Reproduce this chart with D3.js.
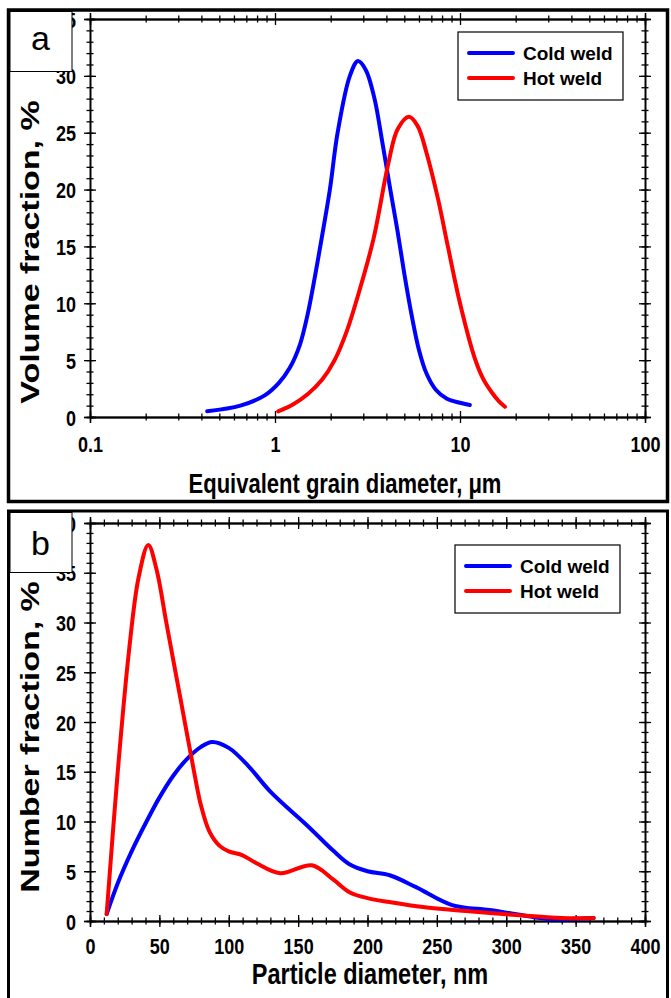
<!DOCTYPE html>
<html lang="en">
<head>
  <meta charset="UTF-8">
  <title>Grain and particle size distributions</title>
  <script src="https://d3js.org/d3.v7.min.js"></script>
  <style>
    body { margin: 0; background: #fff; }
    svg { display: block; font-family: Arial, "Liberation Sans", sans-serif; }
    .tick text { font-weight: bold; font-size: 18px; fill: #000; }
    .axis path, .axis line { stroke: #000; stroke-width: 1.3; }
    .title { font-weight: bold; fill: #000; }
    .legend text { font-weight: bold; font-size: 19px; fill: #000; }
  </style>
</head>
<body>
  <div id="chart"></div>

  <script>
    // (a) grain size, log x axis in um, volume fraction %
    const coldGrainD = [0.43, 0.65, 0.88, 1.05, 1.2, 1.36, 1.5, 1.65, 1.8, 1.98, 2.18, 2.54, 2.81, 3.1, 3.45, 3.8, 4.2, 4.6, 5.0, 5.5, 6.0, 6.6, 7.4, 8.5, 10.0, 11.3];
    const coldGrainV = [0.5, 1.0, 1.9, 3.0, 4.3, 6.3, 9.0, 12.5, 16.0, 20.0, 25.0, 30.0, 31.3, 30.5, 28.0, 24.2, 20.0, 16.3, 12.6, 8.8, 5.9, 3.8, 2.4, 1.6, 1.25, 1.05];
    const hotGrainD = [1.04, 1.25, 1.5, 1.8, 2.1, 2.45, 2.8, 3.4, 4.1, 4.6, 5.3, 5.9, 6.6, 7.6, 8.6, 10.0, 12.0, 13.3, 14.8, 16.2, 17.5];
    const hotGrainV = [0.5, 1.1, 2.0, 3.3, 5.0, 7.6, 10.6, 15.6, 22.3, 25.3, 26.4, 25.6, 23.2, 19.2, 15.0, 10.0, 5.2, 3.4, 2.2, 1.4, 0.9];

    // (b) particle size, nm, number fraction %
    const coldPartD = [12, 20, 30, 40, 50, 60, 70, 80, 88, 100, 114, 130, 158, 175, 187, 200, 216, 235, 261, 288, 311, 329, 345, 363];
    const coldPartN = [0.7, 3.8, 7.0, 9.8, 12.4, 14.6, 16.3, 17.5, 18.0, 17.4, 15.6, 13.0, 9.4, 7.1, 5.7, 5.0, 4.6, 3.4, 1.6, 1.1, 0.6, 0.2, 0.2, 0.3];
    const hotPartD = [12, 20, 28, 35, 42, 48, 55, 65, 75, 80, 86, 93, 100, 110, 120, 137, 160, 175, 187, 200, 216, 240, 271, 307, 340, 363];
    const hotPartN = [0.7, 15.0, 27.0, 34.5, 37.8, 35.3, 30.0, 22.5, 15.0, 11.6, 9.0, 7.6, 7.0, 6.6, 5.8, 4.8, 5.6, 4.2, 2.9, 2.3, 1.9, 1.4, 1.0, 0.6, 0.3, 0.3];

    const seriesNames = ["Cold weld", "Hot weld"];
    const seriesColors = ["#0000ff", "#ff0000"];

    // tick values
    const logMajor = [0.1, 1, 10, 100];
    const logMinor = [2, 3, 4, 5, 6, 7, 8, 9].flatMap(m => [0.1, 1, 10].map(p => +(m * p).toPrecision(2)));
    const yMajorA = d3.range(0, 36, 5);
    const yMinorA = d3.range(0, 36, 1);
    const xMajorB = d3.range(0, 401, 50);
    const xMinorB = d3.range(0, 401, 10);
    const yMajorB = d3.range(0, 41, 5);
    const yMinorB = d3.range(0, 41, 1);

    const W = 671, H = 998;
    const stretch = 1.25; // the reference glyphs are drawn taller than wide

    const svg = d3.select("#chart").append("svg")
      .attr("width", W)
      .attr("height", H);

    // ticks that cross the axis line: draw the axis and its mirror at the same place
    function crossTicks(g, scale, side, values, size, fmt) {
      const pairs = {
        bottom: [d3.axisBottom, d3.axisTop],
        top: [d3.axisTop, d3.axisBottom],
        left: [d3.axisLeft, d3.axisRight],
        right: [d3.axisRight, d3.axisLeft]
      }[side];
      g.append("g").attr("class", "axis")
        .call(pairs[0](scale).tickValues(values).tickSize(size).tickPadding(8)
          .tickFormat(fmt || ""));
      g.append("g").attr("class", "axis")
        .call(pairs[1](scale).tickValues(values).tickSize(size).tickFormat(""));
    }

    function drawPanel(p) {
      const g = svg.append("g");
      const x = p.x, y = p.y;
      const [x0, x1] = x.range();
      const [y0, y1] = y.range();

      // axes on four sides
      const bottom = g.append("g").attr("transform", `translate(0,${y0})`);
      crossTicks(bottom, x, "bottom", p.xMinor, 3.5);
      crossTicks(bottom, x, "bottom", p.xMajor, 6, p.xFmt);
      const top = g.append("g").attr("transform", `translate(0,${y1})`);
      crossTicks(top, x, "top", p.xMinor, 3.5);
      crossTicks(top, x, "top", p.xMajor, 6);
      const left = g.append("g").attr("transform", `translate(${x0},0)`);
      crossTicks(left, y, "left", p.yMinor, 3.5);
      crossTicks(left, y, "left", p.yMajor, 6, d3.format("d"));
      const right = g.append("g").attr("transform", `translate(${x1},0)`);
      crossTicks(right, y, "right", p.yMinor, 3.5);
      crossTicks(right, y, "right", p.yMajor, 6);

      g.selectAll(".axis .domain").attr("stroke-width", 1.5);
      bottom.selectAll(".tick text")
        .attr("y", 0).attr("dy", null)
        .attr("transform", `translate(0,${p.xLabelY}) scale(1,${stretch})`);
      left.selectAll(".tick text")
        .attr("x", -14).attr("dy", "0.36em")
        .attr("transform", `scale(1,${stretch})`);

      // curves
      const line = d3.line()
        .x(d => x(d[0]))
        .y(d => y(d[1]))
        .curve(d3.curveCatmullRom.alpha(0.5));
      p.series.forEach((s, i) => {
        g.append("path")
          .datum(d3.zip(s[0], s[1]))
          .attr("fill", "none")
          .attr("stroke", seriesColors[i])
          .attr("stroke-width", 4)
          .attr("stroke-linejoin", "round")
          .attr("stroke-linecap", "round")
          .attr("d", line);
      });

      // legend
      const lg = g.append("g").attr("class", "legend")
        .attr("transform", `translate(${p.legend[0]},${p.legend[1]})`);
      lg.append("rect")
        .attr("width", 165).attr("height", 68)
        .attr("fill", "#fff").attr("stroke", "#000").attr("stroke-width", 1.2);
      seriesNames.forEach((name, i) => {
        const ly = 21 + i * 25;
        lg.append("line")
          .attr("x1", 11).attr("x2", 55)
          .attr("y1", ly).attr("y2", ly)
          .attr("stroke", seriesColors[i])
          .attr("stroke-width", 4)
          .attr("stroke-linecap", "round");
        lg.append("text")
          .attr("x", 65).attr("y", ly + 7)
          .text(name);
      });

      // axis titles
      g.append("text")
        .attr("class", "title")
        .attr("font-size", p.xTitleSize)
        .attr("transform", `translate(${p.xTitlePos[0]},${p.xTitlePos[1]}) scale(1,${stretch})`)
        .attr("text-anchor", "middle")
        .text(p.xTitle);
      g.append("text")
        .attr("class", "title")
        .attr("font-size", "25px")
        .attr("transform", `translate(${p.yTitlePos[0]},${p.yTitlePos[1]}) rotate(-90) scale(1.36,1)`)
        .attr("text-anchor", "middle")
        .text(p.yTitle);

      // panel frame and letter box
      const f = p.frame;
      g.append("rect")
        .attr("x", f[0]).attr("y", f[1]).attr("width", f[2]).attr("height", f[3])
        .attr("fill", "none").attr("stroke", "#000").attr("stroke-width", p.frameStroke);
      g.append("rect")
        .attr("x", f[0] + 1.5).attr("y", f[1] + 1.5).attr("width", 62).attr("height", 60)
        .attr("fill", "#fff").attr("stroke", "#000").attr("stroke-width", 1);
      g.append("text")
        .attr("x", f[0] + 32).attr("y", f[1] + p.letterY)
        .attr("text-anchor", "middle")
        .attr("font-size", "34px")
        .text(p.letter);
    }

    drawPanel({
      x: d3.scaleLog().domain([0.1, 100]).range([90, 645]),
      y: d3.scaleLinear().domain([0, 35]).range([417, 19]),
      xMajor: logMajor, xMinor: logMinor,
      xFmt: d => d < 1 ? "0.1" : d3.format("d")(d),
      xLabelY: 35,
      yMajor: yMajorA, yMinor: yMinorA,
      series: [[coldGrainD, coldGrainV], [hotGrainD, hotGrainV]],
      legend: [458, 32],
      xTitle: "Equivalent grain diameter, \u03bcm",
      xTitleSize: "22px",
      yTitle: "Volume fraction, %",
      xTitlePos: [345, 493],
      yTitlePos: [39, 252],
      frame: [8.5, 10, 659, 491.5],
      frameStroke: 3.5,
      letter: "a", letterY: 40
    });

    drawPanel({
      x: d3.scaleLinear().domain([0, 400]).range([90, 645]),
      y: d3.scaleLinear().domain([0, 40]).range([921, 523]),
      xMajor: xMajorB, xMinor: xMinorB,
      xFmt: d3.format("d"),
      xLabelY: 33,
      yMajor: yMajorB, yMinor: yMinorB,
      series: [[coldPartD, coldPartN], [hotPartD, hotPartN]],
      legend: [455, 545],
      xTitle: "Particle diameter, nm",
      xTitleSize: "23.5px",
      yTitle: "Number fraction, %",
      xTitlePos: [370, 984],
      yTitlePos: [39, 737],
      frame: [8.5, 511, 659, 500],
      frameStroke: 3,
      letter: "b", letterY: 44
    });
  </script>
</body>
</html>
